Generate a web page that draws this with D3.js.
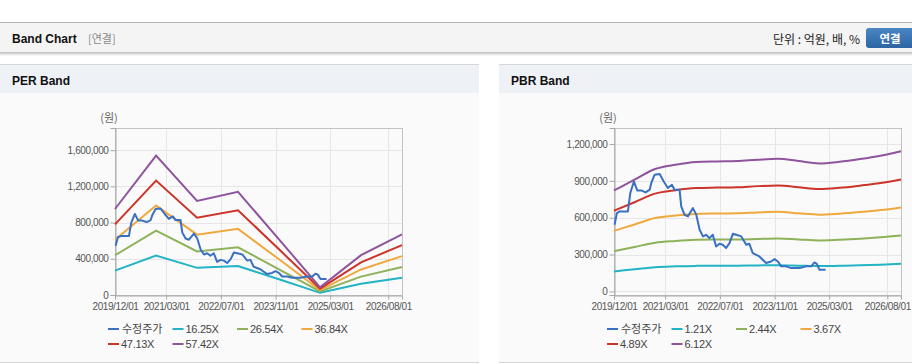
<!DOCTYPE html>
<html>
<head>
<meta charset="utf-8">
<script src="https://cdn.jsdelivr.net/npm/d3@7"></script>
<style>
  body { margin: 0; background: #fff; }
  svg { display: block; }
  .tick text { font-family: "Liberation Sans", Arial, sans-serif; }
</style>
</head>
<body>
<script>
// PER band: vertices of the band lines
var perDates = ["2019/12/01","2020/12/01","2021/12/01","2022/12/01","2023/12/01","2024/12/01","2025/12/01","2026/12/01"];
var per1625 = [269000, 436000, 300000, 320000, 174000, 24000, 125000, 190000];
var per2654 = [439000, 712000, 481000, 527000, 284000, 39000, 203000, 310000];
var per3684 = [610000, 988000, 667000, 731000, 395000, 55000, 282000, 430000];
var per4713 = [780000, 1264000, 854000, 936000, 505000, 70000, 361000, 551000];
var per5742 = [950000, 1540000, 1040000, 1140000, 615000, 85000, 440000, 670000];
var perLabels = ["16.25X","26.54X","36.84X","47.13X","57.42X"];
var perTicks = [0, 400000, 800000, 1200000, 1600000];

// PBR band, half-yearly
var pbrDates = ["2019/12/01","2020/06/01","2020/12/01","2021/06/01","2021/12/01","2022/06/01","2022/12/01","2023/06/01",
  "2023/12/01","2024/06/01","2024/12/01","2025/06/01","2025/12/01","2026/06/01","2026/12/01"];
var pbr121 = [163000,180000,197000,204000,208000,209000,210000,212000,214000,210000,206000,209000,213000,218000,225000];
var pbr244 = [328000,362000,397000,411000,420000,422000,423000,427000,431000,423000,415000,421000,429000,440000,455000];
var pbr367 = [493000,545000,597000,618000,631000,634000,636000,643000,648000,636000,625000,633000,646000,662000,684000];
var pbr489 = [657000,726000,796000,824000,841000,845000,848000,857000,863000,848000,833000,843000,861000,882000,911000];
var pbr612 = [822000,909000,996000,1031000,1053000,1058000,1061000,1072000,1080000,1061000,1042000,1055000,1077000,1104000,1140000];
var pbrLabels = ["1.21X","2.44X","3.67X","4.89X","6.12X"];
var pbrTicks = [0, 300000, 600000, 900000, 1200000];

// 수정주가
var priceDates = ["2019/12/06","2019/12/27","2020/01/20","2020/04/03","2020/04/24","2020/05/26","2020/06/25","2020/07/30",
  "2020/09/08","2020/10/14","2020/10/28","2020/11/27","2021/01/11","2021/02/16","2021/03/25","2021/04/30","2021/05/23",
  "2021/07/07","2021/07/22","2021/08/21","2021/09/20","2021/11/03","2021/12/03","2022/01/02","2022/02/01","2022/03/01",
  "2022/03/30","2022/04/29","2022/05/29","2022/06/28","2022/07/27","2022/08/26","2022/09/25","2022/10/25","2022/11/24",
  "2023/01/08","2023/02/21","2023/03/21","2023/04/20","2023/06/18","2023/08/17","2023/10/01","2023/10/31","2023/11/30",
  "2023/12/29","2024/02/12","2024/03/27","2024/06/10","2024/08/08","2024/09/22","2024/10/21","2024/11/11","2024/12/05",
  "2025/01/28"];
var priceValues = [543000,638000,651000,651000,800000,895000,822000,822000,806000,828000,882000,950000,955000,895000,
  841000,868000,828000,828000,692000,624000,611000,678000,624000,502000,448000,461000,434000,461000,366000,388000,
  380000,353000,393000,469000,461000,448000,380000,388000,312000,285000,231000,244000,263000,244000,204000,204000,
  190000,190000,204000,204000,236000,225000,176000,176000];

var xTicks = ["2019/12/01","2021/03/01","2022/07/01","2023/11/01","2025/03/01","2026/08/01"];
var colors = ["#3a70c2","#22b3c4","#8db25a","#efa83e","#cc3329","#8f549c"];

var parse = d3.timeParse("%Y/%m/%d");
var fmt = d3.format(",");

var svg = d3.select("body").append("svg")
    .attr("width", 912)
    .attr("height", 364);

var defs = svg.append("defs");
var grad = defs.append("linearGradient").attr("id", "btn").attr("x1", 0).attr("y1", 0).attr("x2", 0).attr("y2", 1);
grad.append("stop").attr("offset", "0%").attr("stop-color", "#4a86c4");
grad.append("stop").attr("offset", "100%").attr("stop-color", "#2d64a3");
var sh = defs.append("linearGradient").attr("id", "shadow").attr("x1", 0).attr("y1", 0).attr("x2", 0).attr("y2", 1);
sh.append("stop").attr("offset", "0%").attr("stop-color", "#cfcfcf");
sh.append("stop").attr("offset", "100%").attr("stop-color", "#ffffff");

// top header bar
svg.append("rect").attr("x", 0).attr("y", 22).attr("width", 912).attr("height", 31).attr("fill", "#f4f4f4");
svg.append("rect").attr("x", 0).attr("y", 53).attr("width", 912).attr("height", 3).attr("fill", "url(#shadow)");
svg.append("line").attr("x1", 0).attr("x2", 912).attr("y1", 22.5).attr("y2", 22.5).attr("stroke", "#b4b4b4");
svg.append("line").attr("x1", 0).attr("x2", 912).attr("y1", 52.5).attr("y2", 52.5).attr("stroke", "#c4c4c4");
svg.append("text").attr("x", 12).attr("y", 42.5)
    .style("font", "bold 12px 'Liberation Sans', Arial, sans-serif").attr("fill", "#111").text("Band Chart");
svg.append("text").attr("x", 88).attr("y", 42.5)
    .style("font", "11px 'Noto Sans CJK KR', sans-serif").attr("fill", "#8a8a8a").text("[연결]");
svg.append("text").attr("x", 860).attr("y", 43.5).attr("text-anchor", "end")
    .style("font", "12px 'Noto Sans CJK KR', sans-serif").attr("fill", "#222").text("단위 : 억원, 배, %");
svg.append("rect").attr("x", 866).attr("y", 28).attr("width", 52).attr("height", 20).attr("rx", 3)
    .attr("fill", "url(#btn)");
svg.append("text").attr("x", 890).attr("y", 42.5).attr("text-anchor", "middle")
    .style("font", "bold 11.5px 'Noto Sans CJK KR', sans-serif").attr("fill", "#fff").text("연결");

function drawPanel(px, pw, title) {
    var g = svg.append("g");
    g.append("rect").attr("x", px).attr("y", 64).attr("width", pw).attr("height", 299).attr("fill", "#fafafa");
    g.append("rect").attr("x", px).attr("y", 65).attr("width", pw).attr("height", 28).attr("fill", "#eef2f7");
    g.append("line").attr("x1", px).attr("x2", px + pw).attr("y1", 64.5).attr("y2", 64.5).attr("stroke", "#d6d6d6");
    g.append("line").attr("x1", px).attr("x2", px + pw).attr("y1", 362.5).attr("y2", 362.5).attr("stroke", "#d6d6d6");
    g.append("text").attr("x", px + 12).attr("y", 84.5)
        .style("font", "bold 12px 'Liberation Sans', Arial, sans-serif").attr("fill", "#111").text(title);
}
drawPanel(0, 479, "PER Band");
drawPanel(499, 413, "PBR Band");

function drawChart(x0, yDomain, ticks, bandDates, bands, labels, curve) {
    var g = svg.append("g");
    var x = d3.scaleTime().domain([parse("2019/12/01"), parse("2026/12/01")]).range([x0, x0 + 287]);
    var y = d3.scaleLinear().domain(yDomain).range([295, 128]);

    // grid
    g.selectAll(".hg").data(ticks).enter().append("line")
        .attr("x1", x0).attr("x2", x0 + 287)
        .attr("y1", function(d){ return Math.round(y(d)) + 0.5; })
        .attr("y2", function(d){ return Math.round(y(d)) + 0.5; })
        .attr("stroke", "#e6e6e6");
    g.selectAll(".vg").data(xTicks.slice(1)).enter().append("line")
        .attr("x1", function(d){ return Math.round(x(parse(d))) + 0.5; })
        .attr("x2", function(d){ return Math.round(x(parse(d))) + 0.5; })
        .attr("y1", 128).attr("y2", 295)
        .attr("stroke", "#e6e6e6");
    g.append("rect").attr("x", x0 + 0.5).attr("y", 128.5).attr("width", 287).attr("height", 167)
        .attr("fill", "none").attr("stroke", "#c2c2c2");

    var yAxis = g.append("g").attr("transform", "translate(" + (x0 + 0.5) + ",0)")
        .call(d3.axisLeft(y).tickValues(ticks).tickFormat(fmt).tickSize(5).tickPadding(2));
    var xAxis = g.append("g").attr("transform", "translate(0,295.5)")
        .call(d3.axisBottom(x).tickValues(xTicks.map(parse)).tickFormat(d3.timeFormat("%Y/%m/%d")).tickSize(4).tickPadding(3));
    [yAxis, xAxis].forEach(function(a){
        a.select(".domain").attr("stroke", "#a8a8a8");
        a.selectAll(".tick line").attr("stroke", "#a8a8a8");
        a.selectAll(".tick text").attr("fill", "#555").style("font-size", "10px").style("letter-spacing", "-0.4px");
    });

    g.append("text").attr("x", x0 - 6).attr("y", 122).attr("text-anchor", "middle")
        .style("font", "11px 'Noto Sans CJK KR', sans-serif").attr("fill", "#666").text("(원)");

    var bd = bandDates.map(parse);
    bands.forEach(function(vals, i){
        var line = d3.line().curve(curve)
            .x(function(d, j){ return x(bd[j]); })
            .y(function(d){ return y(d); });
        g.append("path").datum(vals).attr("d", line)
            .attr("fill", "none").attr("stroke", colors[i + 1]).attr("stroke-width", 2);
    });
    var pd = priceDates.map(parse);
    var pline = d3.line()
        .x(function(d, j){ return x(pd[j]); })
        .y(function(d){ return y(d); });
    g.append("path").datum(priceValues).attr("d", pline)
        .attr("fill", "none").attr("stroke", colors[0]).attr("stroke-width", 2).attr("stroke-linejoin", "round");

    // legend
    var names = ["수정주가"].concat(labels);
    var lg = g.selectAll(".lg").data(names).enter().append("g")
        .attr("transform", function(d, i){
            return "translate(" + (x0 - 7 + (i % 4) * 64.5) + "," + (i < 4 ? 329 : 344) + ")";
        });
    lg.append("line").attr("x1", 0).attr("x2", 11).attr("y1", 0).attr("y2", 0)
        .attr("stroke", function(d, i){ return colors[i]; }).attr("stroke-width", 2);
    lg.append("text").attr("x", function(d, i){ return i === 0 ? 14 : 13; }).attr("y", 4)
        .style("font-family", function(d, i){ return i === 0 ? "'Noto Sans CJK KR', sans-serif" : "'Liberation Sans', Arial, sans-serif"; })
        .style("font-size", "11px").style("letter-spacing", function(d, i){ return i === 0 ? "0" : "-0.3px"; })
        .attr("fill", "#444").text(function(d){ return d; });
}

drawChart(115, [0, 1845000], perTicks, perDates, [per1625, per2654, per3684, per4713, per5742], perLabels, d3.curveLinear);
drawChart(614, [-29000, 1330000], pbrTicks, pbrDates, [pbr121, pbr244, pbr367, pbr489, pbr612], pbrLabels, d3.curveMonotoneX);
</script>
</body>
</html>
